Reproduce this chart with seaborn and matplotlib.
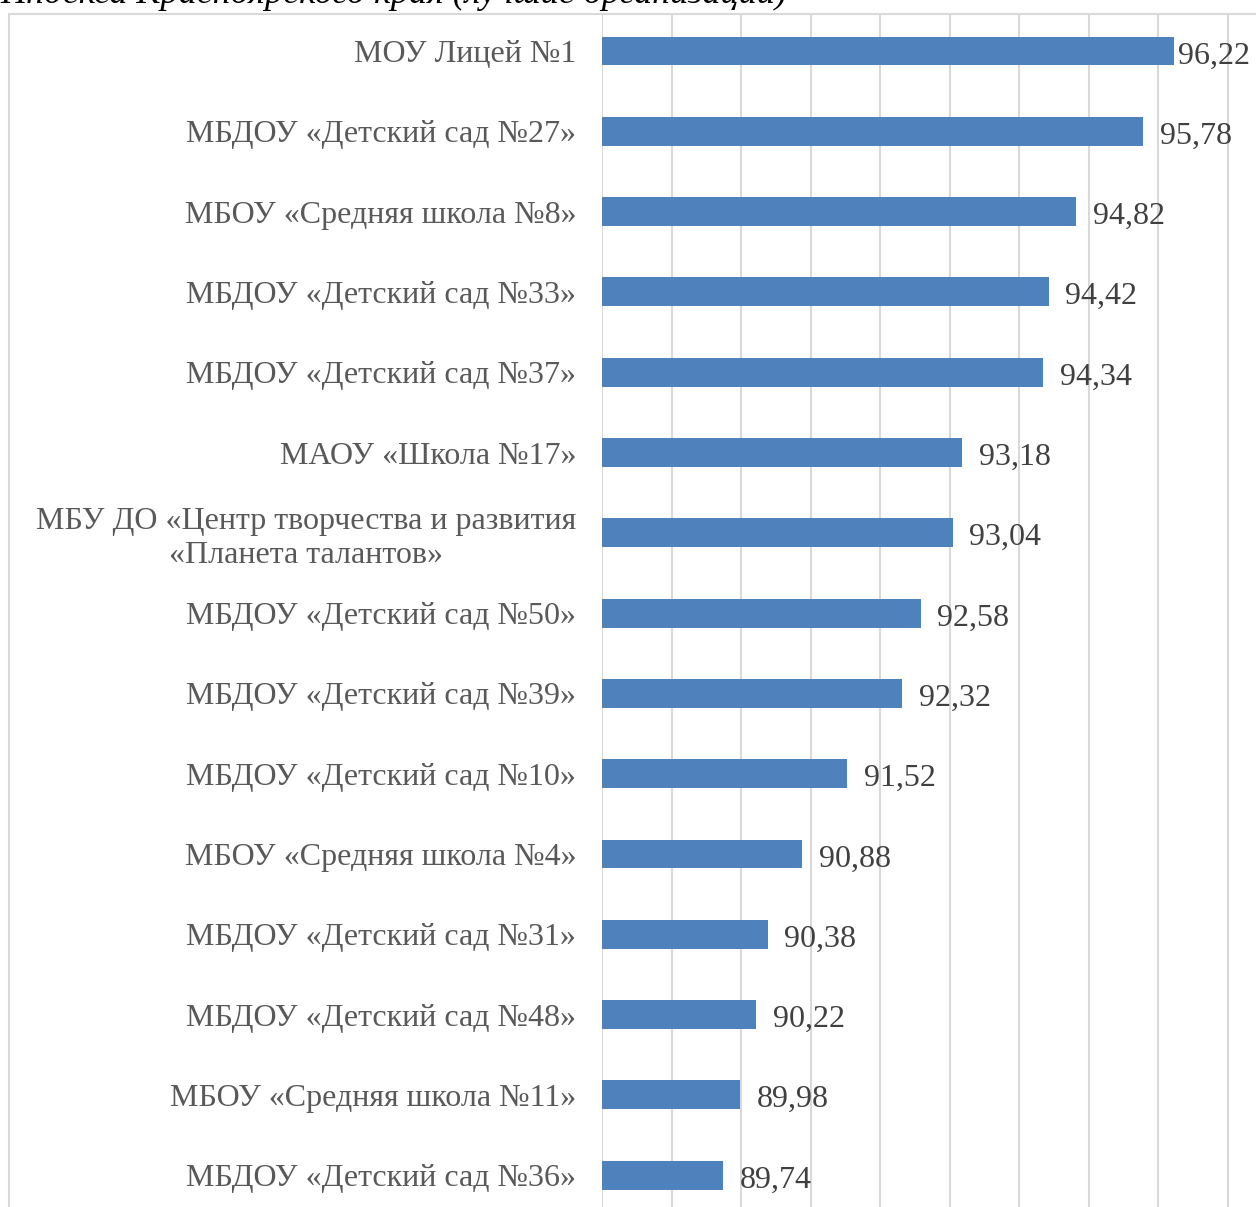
#!/usr/bin/env python3
"""
Horizontal bar chart: best organisations in the Krasnoyarsk region rating.
"""
import matplotlib
matplotlib.use("Agg")
import matplotlib.pyplot as plt
import seaborn as sns
import pandas as pd
from matplotlib.patches import Rectangle

# Data
organisations = [
    "МОУ Лицей №1",
    "МБДОУ «Детский сад №27»",
    "МБОУ «Средняя школа №8»",
    "МБДОУ «Детский сад №33»",
    "МБДОУ «Детский сад №37»",
    "МАОУ «Школа №17»",
    "МБУ ДО «Центр творчества и развития\n«Планета талантов»",
    "МБДОУ «Детский сад №50»",
    "МБДОУ «Детский сад №39»",
    "МБДОУ «Детский сад №10»",
    "МБОУ «Средняя школа №4»",
    "МБДОУ «Детский сад №31»",
    "МБДОУ «Детский сад №48»",
    "МБОУ «Средняя школа №11»",
    "МБДОУ «Детский сад №36»",
]
scores = [96.22, 95.78, 94.82, 94.42, 94.34, 93.18, 93.04, 92.58,
          92.32, 91.52, 90.88, 90.38, 90.22, 89.98, 89.74]
x_ticks = [88, 89, 90, 91, 92, 93, 94, 95, 96, 97]
caption = "Индекса Красноярского края (лучшие организации)"

BAR_COLOR = "#4F81BD"
GRID_COLOR = "#D9D9D9"
LABEL_COLOR = "#595959"
VALUE_COLOR = "#404040"

W, H = 1256, 1207
DPI = 100


def main():
    df = pd.DataFrame({"org": organisations, "score": scores})

    sns.set_theme(style="white")
    plt.rcParams["font.family"] = ["Liberation Serif", "DejaVu Serif"]

    fig = plt.figure(figsize=(W / DPI, H / DPI), dpi=DPI)
    fig.patch.set_facecolor("white")

    # plot area in pixel terms: x 602 -> 1256, y 14 -> 1207
    left_px, right_px = 602, 1256
    top_px, bottom_px = 14, 1207
    ax = fig.add_axes([left_px / W, 1 - bottom_px / H,
                       (right_px - left_px) / W, (bottom_px - top_px) / H])

    # outer chart frame (cut off at right and bottom like the reference)
    fig.patches.append(Rectangle((9 / W, -0.05), 1.1, 1 - 14 / H + 0.05,
                                 transform=fig.transFigure, fill=False,
                                 edgecolor=GRID_COLOR, linewidth=1.5, zorder=0))

    sns.barplot(data=df, x="score", y="org", ax=ax, color=BAR_COLOR,
                width=0.36, saturation=1, orient="h", edgecolor="none")

    # bars start at the left axis limit (88)
    for patch, val in zip(ax.patches, scores):
        patch.set_x(88)
        patch.set_width(val - 88)

    px_per_unit = 69.56
    ax.set_xlim(88, 88 + (right_px - left_px) / px_per_unit)
    pitch = 80.3
    first_center = 51
    ax.set_ylim((bottom_px - first_center) / pitch, (top_px - first_center) / pitch)

    ax.set_xticks(x_ticks)
    ax.xaxis.grid(True, color=GRID_COLOR, linewidth=1.5)
    ax.set_axisbelow(True)
    ax.tick_params(axis="x", bottom=False, labelbottom=False)
    ax.tick_params(axis="y", left=False, pad=12.5, labelsize=23, labelcolor=LABEL_COLOR)
    for lbl in ax.get_yticklabels():
        lbl.set_multialignment("center")
        lbl.set_linespacing(1.2)
        lbl.set_verticalalignment("center_baseline")
    for s in ax.spines.values():
        s.set_visible(False)
    ax.set_xlabel("")
    ax.set_ylabel("")

    # value labels, pulled in when they would run off the figure
    renderer = fig.canvas.get_renderer()
    for i, val in enumerate(scores):
        txt = ax.annotate(f"{val:.2f}".replace(".", ","), xy=(val, i),
                          xytext=(12, -1), textcoords="offset points",
                          ha="left", va="center_baseline", fontsize=23,
                          color=VALUE_COLOR)
        bb = txt.get_window_extent(renderer)
        if bb.x1 > W - 5:
            txt.set_position((12 - (bb.x1 - (W - 6)) * 72 / DPI, -1))

    # caption of the document, cut by the top edge
    fig.text(0.0, 1 - 3 / H, caption, ha="left", va="baseline", fontsize=26,
             style="italic", color="black")

    fig.savefig("out.png", dpi=DPI)
    plt.close(fig)


if __name__ == "__main__":
    main()
